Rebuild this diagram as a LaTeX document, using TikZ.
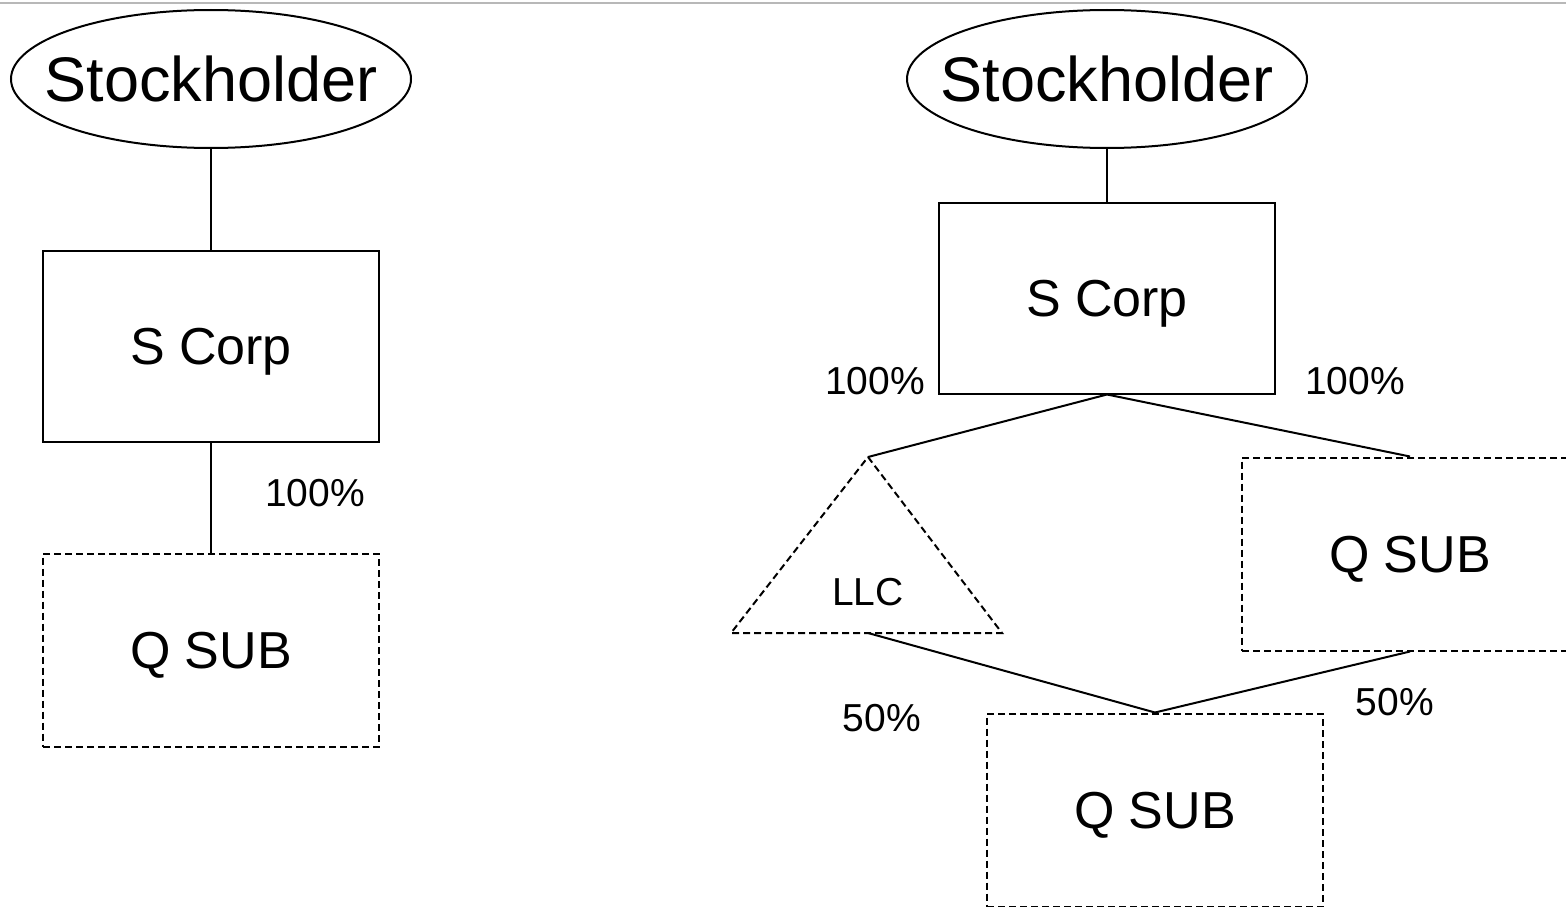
\documentclass[tikz,border=0pt]{standalone}
\usepackage{fontspec}
\setmainfont{Liberation Sans}
\usetikzlibrary{shapes.geometric}

\begin{document}
\begin{tikzpicture}[x=1pt,y=-1pt,line width=2pt,
  every node/.style={inner sep=0pt,text depth=0pt},
  owner/.style={draw,ellipse,inner xsep=-25pt,minimum width=400pt,minimum height=138pt,font=\fontsize{63}{70}\selectfont},
  corp/.style={draw,rectangle,minimum width=336pt,minimum height=191pt,font=\fontsize{52}{60}\selectfont},
  qsub/.style={corp,dash pattern=on 7pt off 4pt,minimum height=193pt},
  pct/.style={font=\fontsize{39}{45}\selectfont}]
\useasboundingbox (0,0) rectangle (1566,907);
\draw[black!28,line width=2pt] (0,3) -- (1566,3);

%left structure
\node[owner] (own1) at (211,79){Stockholder};
\node[corp] (corp1) at (211,346){S Corp};
\node[qsub] (sub1) at (211,650){Q SUB};
\node[pct] (p1) at (315,493){100\%};
\draw (own1) -- (corp1);
\draw (corp1) -- (sub1);

%right structure
\node[owner] (own2) at (1107,79){Stockholder};
\node[corp] (corp2) at (1107,298){S Corp};
\node[qsub] (sub2) at (1410,554){Q SUB};
\node[qsub] (sub3) at (1155,810){Q SUB};
\coordinate (llctop) at (868,457);
\coordinate (llcleft) at (731,633);
\coordinate (llcright) at (1002,633);
\coordinate (llcbase) at (868,633);
\draw[dash pattern=on 7pt off 4pt] (llctop) -- (llcright) -- (llcleft) -- cycle;
\node[pct] (llc) at (868,592){LLC};
\node[pct] (p2) at (875,381){100\%};
\node[pct] (p3) at (1355,381){100\%};
\node[pct] (p4) at (882,718){50\%};
\node[pct] (p5) at (1395,702){50\%};
\draw (own2) -- (corp2);
\draw (corp2.south) -- (llctop);
\draw (corp2.south) -- (sub2.north);
\draw (llcbase) -- (sub3.north);
\draw (sub2.south) -- (sub3.north);
\end{tikzpicture}
\end{document}
